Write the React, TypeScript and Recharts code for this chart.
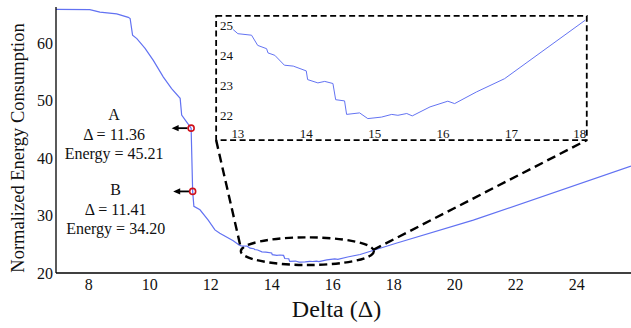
import { LineChart, Line, XAxis, YAxis, ReferenceArea, ReferenceLine, ReferenceDot } from 'recharts';

// curve (main plot + inset)
const deltas = [
  6.93, 8.04, 8.37, 8.92, 9.3, 9.36, 9.44, 9.58, 9.85, 10.12, 10.45, 10.72, 11.0, 11.05, 11.21,
  11.36, 11.41, 11.45, 11.65, 11.92, 12.14, 12.3, 12.74, 12.93, 13.0, 13.2, 13.29, 13.42, 13.44,
  13.54, 13.68, 13.81, 14.0, 14.02, 14.17, 14.27, 14.39, 14.43, 14.56, 14.59, 14.78, 14.9, 15.1,
  15.25, 15.34, 15.47, 15.55, 15.81, 16.07, 16.17, 16.49, 16.9, 18.08, 20.61, 25.78,
];
const energies = [
  65.9, 65.85, 65.4, 65.1, 64.5, 64.3, 61.4, 60.8, 59.1, 57.0, 54.1, 52.1, 50.4, 47.5, 46.3,
  45.21, 34.2, 31.6, 31.0, 29.2, 27.5, 26.9, 25.6, 24.86, 24.72, 24.67, 24.33, 24.22, 24.08,
  24.0, 23.67, 23.64, 23.48, 23.19, 23.08, 23.13, 23.06, 22.52, 22.48, 22.03, 22.08, 21.89, 21.94,
  22.03, 22.0, 22.06, 21.98, 22.28, 22.47, 22.39, 22.78, 23.22, 25.17, 29.2, 38.6,
];

const xTicks = [8, 10, 12, 14, 16, 18, 20, 22, 24];
const yTicks = [20, 30, 40, 50, 60];
const insetXTicks = [13, 14, 15, 16, 17, 18];
const insetYTicks = [22, 23, 24, 25];

const pointNames = ['A', 'B'];
const pointDeltas = [11.36, 11.41];
const pointEnergies = [45.21, 34.2];

const data = deltas.map((d, i) => ({ delta: d, energy: energies[i] }));
const insetData = data.filter((p) => p.delta >= 12.9 && p.delta <= 18.1);

const W = 631;
const H = 328;
const mainX: [number, number] = [6.93, 25.78];
const mainY: [number, number] = [20, 66.3];
const plot = { left: 56, top: 7, width: 575, height: 266 };

// zoomed region (ellipse) and the inset box, in main-chart units
const zoomX: [number, number] = [12.99, 17.35];
const zoomY: [number, number] = [21.39, 26.21];
const boxX: [number, number] = [12.18, 24.33];
const boxY: [number, number] = [43.13, 64.75];
const insetX: [number, number] = [12.68, 18.1];
const insetY: [number, number] = [21.17, 25.31];

const toPxX = (x: number) => plot.left + ((x - mainX[0]) / (mainX[1] - mainX[0])) * plot.width;
const toPxY = (y: number) => plot.top + ((mainY[1] - y) / (mainY[1] - mainY[0])) * plot.height;

const serif = '"Liberation Serif", "Times New Roman", serif';
const lineColor = '#6272f2';
const labelDy = [
  [-8, 12, 30.5],
  [4, 24, 43],
];

const YLabel = ({ viewBox }: any) => {
  const cx = viewBox.x + 23.5;
  const cy = viewBox.y + viewBox.height / 2 + 8;
  return (
    <text x={cx} y={cy} transform={`rotate(-90 ${cx} ${cy})`} textAnchor="middle"
      fontFamily={serif} fontSize={18.5} fill="#111">
      Normalized Energy Consumption
    </text>
  );
};

const XLabel = ({ viewBox }: any) => (
  <text x={viewBox.x + viewBox.width / 2 - 7} y={viewBox.y + 43.5} textAnchor="middle"
    fontFamily={serif} fontSize={24} fill="#111">
    Delta (Δ)
  </text>
);

const pointShape = (i: number) => (props: any) => {
  const { cx, cy } = props;
  const tip = cx - 19.5;
  const tx = tip - 57.5;
  const dy = labelDy[i];
  return (
    <g>
      <line x1={cx - 3.5} y1={cy} x2={tip + 5} y2={cy} stroke="#000" strokeWidth={1.8} />
      <polygon points={`${tip},${cy} ${tip + 7},${cy - 3.2} ${tip + 7},${cy + 3.2}`} fill="#000" />
      <circle cx={cx} cy={cy} r={3} fill="none" stroke="#d0101a" strokeWidth={1.6} />
      <g fontFamily={serif} fontSize={16} fill="#111" textAnchor="middle">
        <text x={tx} y={cy + dy[0]}>{pointNames[i]}</text>
        <text x={tx} y={cy + dy[1]}>{`Δ = ${pointDeltas[i].toFixed(2)}`}</text>
        <text x={tx} y={cy + dy[2]}>{`Energy = ${pointEnergies[i].toFixed(2)}`}</text>
      </g>
    </g>
  );
};

const ellipseShape = (props: any) => {
  const { x, y, width, height } = props;
  return (
    <ellipse cx={x + width / 2} cy={y + height / 2} rx={width / 2} ry={height / 2}
      fill="none" stroke="#000" strokeWidth={2.4} strokeDasharray="8 4.5" />
  );
};

const tickStyle = { fill: '#111', fontSize: 16, fontFamily: serif };
const insetTick = { fill: '#111', fontSize: 13, fontFamily: serif };

export default function App() {
  const insetLeft = toPxX(boxX[0]);
  const insetTop = toPxY(boxY[1]);
  const insetW = toPxX(boxX[1]) - insetLeft;
  const insetH = toPxY(boxY[0]) - insetTop;

  return (
    <div style={{ position: 'absolute', left: 0, top: 0, width: W, height: H, background: '#fff' }}>
      <LineChart width={W} height={H} data={data} margin={{ top: plot.top, right: 0, left: 0, bottom: 5 }}>
        <XAxis
          type="number"
          dataKey="delta"
          domain={mainX}
          ticks={xTicks}
          allowDataOverflow
          height={50}
          tickLine={false}
          tickSize={0}
          tickMargin={6}
          tick={tickStyle}
          axisLine={{ stroke: '#000', strokeWidth: 1.3 }}
          label={{ content: XLabel }}
        />
        <YAxis
          type="number"
          domain={mainY}
          ticks={yTicks}
          allowDataOverflow
          width={plot.left}
          tickLine={false}
          tickSize={0}
          tickMargin={3}
          tick={tickStyle}
          axisLine={{ stroke: '#000', strokeWidth: 1.3 }}
          label={{ content: YLabel }}
        />
        <Line
          type="linear"
          dataKey="energy"
          stroke={lineColor}
          strokeWidth={1.2}
          dot={false}
          activeDot={false}
          isAnimationActive={false}
        />
        <ReferenceArea x1={boxX[0]} x2={boxX[1]} y1={boxY[0]} y2={boxY[1]}
          fill="none" stroke="#000" strokeWidth={1.8} strokeDasharray="6 3.5" fillOpacity={0} />
        <ReferenceArea x1={zoomX[0]} x2={zoomX[1]} y1={zoomY[0]} y2={zoomY[1]} shape={ellipseShape} />
        <ReferenceLine
          segment={[{ x: boxX[0], y: boxY[0] }, { x: zoomX[0], y: 24.35 }]}
          stroke="#000" strokeWidth={2.4} strokeDasharray="9 5"
        />
        <ReferenceLine
          segment={[{ x: 17.32, y: 24.0 }, { x: boxX[1], y: boxY[0] }]}
          stroke="#000" strokeWidth={2.4} strokeDasharray="9 5"
        />
        {pointDeltas.map((d, i) => (
          <ReferenceDot key={pointNames[i]} x={d} y={pointEnergies[i]} r={3} shape={pointShape(i)} />
        ))}
      </LineChart>

      <div style={{ position: 'absolute', left: insetLeft, top: insetTop }}>
        <LineChart width={insetW} height={insetH} data={insetData} margin={{ top: 0, right: 0, left: 0, bottom: 0 }}>
          <XAxis
            type="number"
            dataKey="delta"
            domain={insetX}
            ticks={insetXTicks}
            allowDataOverflow
            mirror
            tickLine={false}
            axisLine={false}
            tickSize={0}
            tickMargin={2.5}
            tick={insetTick}
          />
          <YAxis
            type="number"
            domain={insetY}
            ticks={insetYTicks}
            allowDataOverflow
            mirror
            tickLine={false}
            axisLine={false}
            tickSize={0}
            tickMargin={4}
            tick={insetTick}
          />
          <Line
            type="linear"
            dataKey="energy"
            stroke={lineColor}
            strokeWidth={1}
            dot={false}
            activeDot={false}
            isAnimationActive={false}
          />
        </LineChart>
      </div>
    </div>
  );
}
